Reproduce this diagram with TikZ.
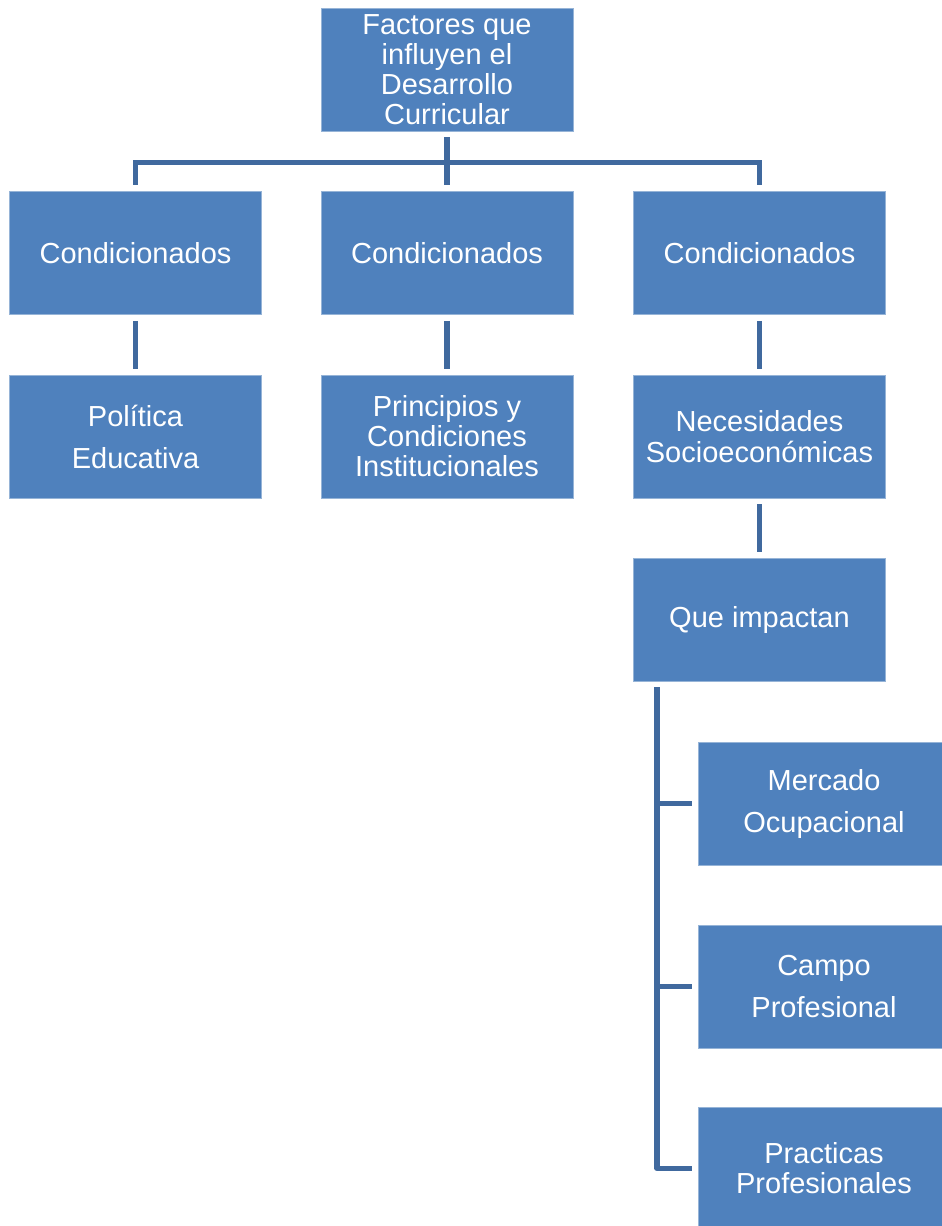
\documentclass[tikz,border=0pt]{standalone}
\usepackage{fontspec}
\setmainfont{Liberation Sans}
\definecolor{boxfill}{RGB}{79,129,189}
\definecolor{boxline}{RGB}{150,180,215}
\definecolor{conncol}{RGB}{64,105,158}
\begin{document}
\begin{tikzpicture}[x=1pt,y=-1pt,
  box/.style={rectangle, fill=boxfill, draw=boxline, line width=0.8pt,
    minimum width=252pt, minimum height=123pt, inner sep=0pt,
    text=white, align=center},
  tight/.style={font=\fontsize{29}{30}\selectfont},
  loose/.style={font=\fontsize{29}{42}\selectfont},
  conn/.style={draw=conncol, line width=5.5pt, shorten <=6pt, shorten >=6pt}]
\useasboundingbox (0,0) rectangle (942,1226);
\clip (0,0) rectangle (942,1226);
\node[box,tight] (top) at (447,69.5) {Factores que\\influyen el\\Desarrollo\\Curricular};
\node[box,tight] (c1) at (135.5,253) {Condicionados};
\node[box,tight] (c2) at (447,253) {Condicionados};
\node[box,tight] (c3) at (759.5,253) {Condicionados};
\node[box,loose] (pol) at (135.5,436.5) {Política\\Educativa};
\node[box,tight] (pri) at (447,436.5) {Principios y\\Condiciones\\Institucionales};
\node[box,font=\fontsize{29}{31}\selectfont] (nec) at (759.5,436.5) {Necesidades\\Socioeconómicas};
\node[box,tight] (que) at (759.5,619.5) {Que impactan};
\node[box,loose] (mer) at (824,803.5) {Mercado\\Ocupacional};
\node[box,loose] (cam) at (824,986.5) {Campo\\Profesional};
\node[box,tight] (pra) at (824,1168.5) {Practicas\\Profesionales};
% tree from top
\draw[conn] (top.south) -- (c2.north);
\draw[conn] (top.south) -- ++(0,31) -| (c1.north);
\draw[conn] (top.south) -- ++(0,31) -| (c3.north);
\draw[conn] (c1.south) -- (pol.north);
\draw[conn] (c2.south) -- (pri.north);
\draw[conn] (c3.south) -- (nec.north);
\draw[conn] (nec.south) -- (que.north);
% side branch
\coordinate (qs) at ([xshift=24pt]que.south west);
\draw[conn] (qs) |- (mer.west);
\draw[conn] (qs) |- (cam.west);
\draw[conn, line join=round] (qs) |- (pra.west);
\end{tikzpicture}
\end{document}
